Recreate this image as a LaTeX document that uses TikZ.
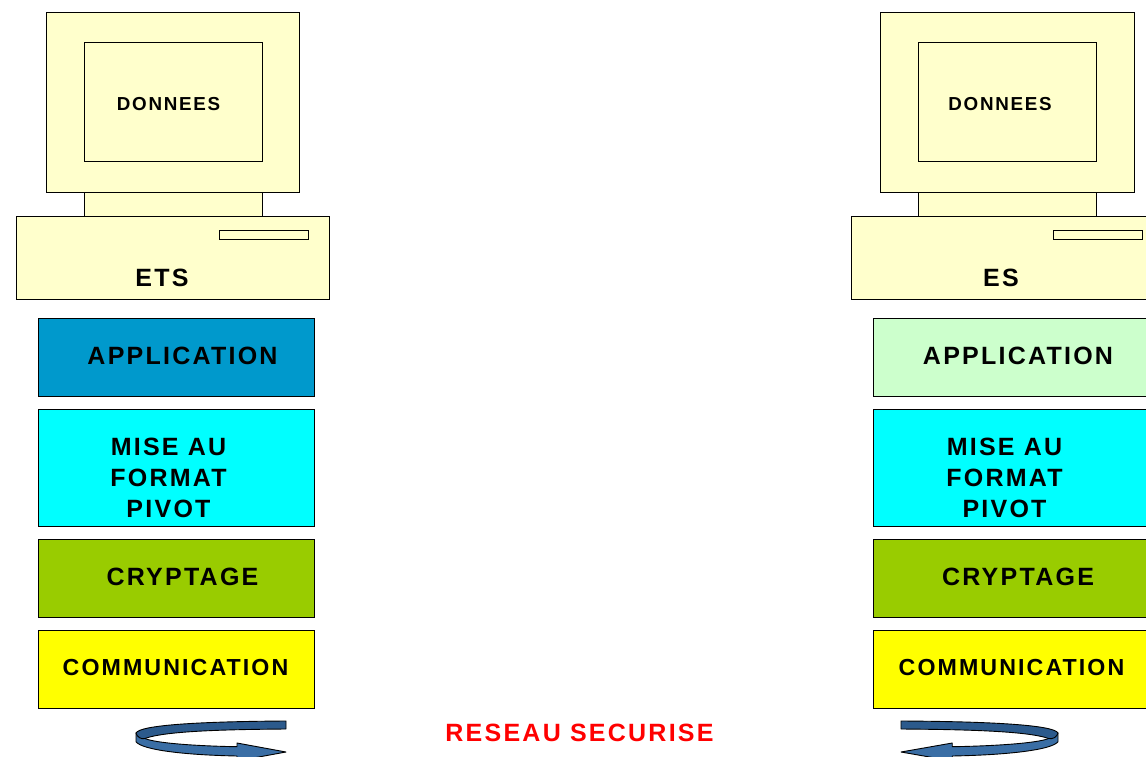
\documentclass[tikz,border=0pt]{standalone}
\usepackage{fontspec}
\setmainfont{Liberation Sans}[BoldFont={Liberation Sans Bold}]
\newfontfamily\lblfont{Liberation Sans Bold}[LetterSpace=9]
\definecolor{beige}{HTML}{FFFFCC}
\definecolor{appblue}{HTML}{0099CC}
\definecolor{appgreen}{HTML}{CCFFCC}
\definecolor{pivotcyan}{HTML}{00FFFF}
\definecolor{cryptgreen}{HTML}{99CC00}
\definecolor{commyellow}{HTML}{FFFF00}
\definecolor{swirllight}{HTML}{3A6EA5}
\definecolor{swirldark}{HTML}{2C5A8C}
\tikzset{
  panel/.style={draw=black,line width=0.9pt,rectangle,inner sep=0pt,outer sep=0pt,anchor=north west},
  lbl/.style={inner sep=0pt,outer sep=0pt,anchor=base,text=black,align=center},
  big/.style={lbl,font=\lblfont\fontsize{25}{31}\selectfont},
  mid/.style={lbl,font=\lblfont\fontsize{23.2}{31}\selectfont},
  small/.style={lbl,font=\lblfont\fontsize{18.8}{22}\selectfont},
  swirlpart/.style={draw=black,line width=0.9pt,line join=round},
}
\newcommand{\bx}[6]{\node[panel,fill=#6,minimum width={#4-#2-0.15},minimum height={#5-#3-0.15}] (#1) at (#2+0.1,#3+0.1) {};}
\newcommand{\swirlshape}{%
  \path[swirlpart,fill=swirllight] (136,733) -- (136,741.7)
     .. controls (142,750) and (185,755) .. (237,756)
     -- (237,761) -- (286,752) -- (237,743) -- (237,746.7)
     .. controls (195,746) and (155,743) .. (145,738.5) -- cycle;
  \path[swirlpart,fill=swirldark] (286,721) -- (286,729)
     .. controls (225,729.5) and (165,731) .. (145,738.5)
     .. controls (141,739.5) and (137,737) .. (136,733)
     .. controls (140,725) and (200,721.5) .. (286,721) -- cycle;
}
\begin{document}
\begin{tikzpicture}[x=1pt,y=-1pt]
\useasboundingbox (0,0) rectangle (1146,757);
\clip (0,0) rectangle (1146,757);
% left station
\bx{lneck}{84}{192}{262}{216}{beige}
\bx{lmon}{46}{12}{299}{192}{beige}
\bx{lscreen}{84}{42}{262}{162}{beige}
\bx{lbase}{16}{216}{329}{299}{beige}
\bx{lslot}{219}{230}{308}{239}{beige}
\bx{lapp}{38}{318}{314}{396}{appblue}
\bx{lpiv}{38}{409}{314}{526}{pivotcyan}
\bx{lcry}{38}{539}{314}{617}{cryptgreen}
\bx{lcom}{38}{630}{314}{708}{commyellow}
% right station
\bx{rneck}{918}{192}{1096}{216}{beige}
\bx{rmon}{880}{12}{1134}{192}{beige}
\bx{rscreen}{918}{42}{1096}{162}{beige}
\bx{rbase}{851}{216}{1164}{299}{beige}
\bx{rslot}{1053}{230}{1142}{239}{beige}
\bx{rapp}{873}{318}{1150}{396}{appgreen}
\bx{rpiv}{873}{409}{1150}{526}{pivotcyan}
\bx{rcry}{873}{539}{1150}{617}{cryptgreen}
\bx{rcom}{873}{630}{1150}{708}{commyellow}
% labels
\node[small] (ldon) at (168.5,110.5) {DONNEES};
\node[small] (rdon) at (1000,110.5) {DONNEES};
\node[big] (lets) at (162,286.5) {ETS};
\node[big] (res) at (1001,286.5) {ES};
\node[big] (lapptxt) at (182.5,364.5) {APPLICATION};
\node[big] (rapptxt) at (1018,364.5) {APPLICATION};
\node[big,anchor=center] (lpivtxt) at (168.5,478) {MISE AU\\FORMAT\\PIVOT};
\node[big,anchor=center] (rpivtxt) at (1004.5,478) {MISE AU\\FORMAT\\PIVOT};
\node[big] (lcrytxt) at (182.5,585.5) {CRYPTAGE};
\node[big] (rcrytxt) at (1018,585.5) {CRYPTAGE};
\node[mid] (lcomtxt) at (175.5,675) {COMMUNICATION};
\node[mid] (rcomtxt) at (1011.5,675) {COMMUNICATION};
\node[big,text=red] (net) at (579.5,741.5) {RESEAU SECURISE};
% swirl arrows
\swirlshape
\begin{scope}[cm={-1.0467,0,0,1,(1200.35pt,0pt)}]
\swirlshape
\end{scope}
\end{tikzpicture}
\end{document}
